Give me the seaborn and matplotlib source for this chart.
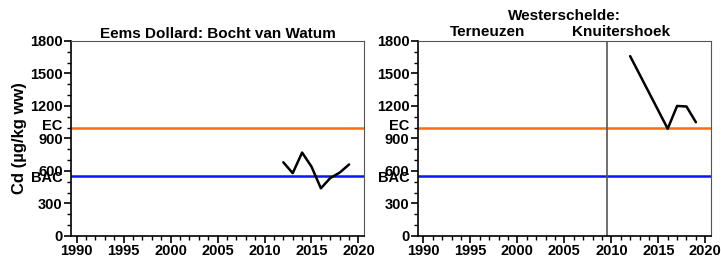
import pandas as pd
import matplotlib
matplotlib.use('Agg')
import matplotlib.pyplot as plt
import seaborn as sns
from matplotlib.ticker import MultipleLocator
import matplotlib.transforms as mtransforms

# data
years_eems = [2012, 2013, 2014, 2015, 2016, 2017, 2018, 2019]
cd_eems = [680, 580, 770, 640, 440, 535, 585, 660]
years_ws = [2012, 2016, 2017, 2018, 2019]
cd_ws = [1660, 990, 1200, 1195, 1050]
EC = 1000
BAC = 550
switch_year = 2009.5   # Terneuzen -> Knuitershoek

titles = ['Eems Dollard: Bocht van Watum', 'Westerschelde:']
sub_locs = ['Terneuzen', 'Knuitershoek']
sub_x = [1996.8, 2011.0]

sns.set_style('ticks')
plt.rcParams['font.family'] = ['Liberation Sans', 'DejaVu Sans']
plt.rcParams['font.weight'] = 'bold'
for k in ['text.color', 'axes.labelcolor', 'xtick.color', 'ytick.color', 'axes.edgecolor']:
    plt.rcParams[k] = 'black'

fig = plt.figure(figsize=(7.21, 2.58), dpi=100)
ax1 = fig.add_axes([0.0985, 0.0853, 0.4065, 0.756])
ax2 = fig.add_axes([0.5795, 0.0853, 0.4065, 0.756])

df1 = pd.DataFrame({'jaar': years_eems, 'Cd': cd_eems})
df2 = pd.DataFrame({'jaar': years_ws, 'Cd': cd_ws})

fs = 10.5
for ax, df in [(ax1, df1), (ax2, df2)]:
    ax.axhline(EC, color='#ff6a13', lw=1.8, zorder=1)
    ax.axhline(BAC, color='#0a14ff', lw=1.8, zorder=1)
    sns.lineplot(data=df, x='jaar', y='Cd', ax=ax, color='black', lw=1.8, zorder=3)
    ax.set_xlim(1989.4, 2020.6)
    ax.set_ylim(0, 1800)
    ax.set_xticks([1990, 1995, 2000, 2005, 2010, 2015, 2020])
    ax.set_yticks([0, 300, 600, 900, 1200, 1500, 1800])
    ax.xaxis.set_minor_locator(MultipleLocator(1))
    ax.yaxis.set_minor_locator(MultipleLocator(100))
    ax.tick_params(axis='both', which='major', length=5, width=1.2, labelsize=fs, pad=1)
    ax.tick_params(axis='both', which='minor', length=3, width=1)
    for lab in ax.get_xticklabels() + ax.get_yticklabels():
        lab.set_fontweight('bold')
    ax.set_xlabel('')
    ax.set_ylabel('')
    ax.spines['left'].set_linewidth(1.2)
    ax.spines['bottom'].set_linewidth(1.2)
    ax.spines['top'].set_visible(True)
    ax.spines['right'].set_visible(True)
    ax.spines['top'].set_color('#555555')
    ax.spines['right'].set_color('#555555')
    trans = mtransforms.blended_transform_factory(ax.transAxes, ax.transData)
    ax.text(-0.028, EC + 15, 'EC', transform=trans, ha='right', va='center',
            fontsize=fs, fontweight='bold')
    ax.text(-0.028, BAC - 15, 'BAC', transform=trans, ha='right', va='center',
            fontsize=fs, fontweight='bold')

ax2.axvline(switch_year, color='#555555', lw=1.2, zorder=2)

ax1.set_title(titles[0], fontsize=11, fontweight='bold', pad=2)
ax2.set_title(titles[1], fontsize=11, fontweight='bold', pad=15)
trans2 = mtransforms.blended_transform_factory(ax2.transData, ax2.transAxes)
for name, xpos in zip(sub_locs, sub_x):
    ax2.text(xpos, 1.012, name, transform=trans2, ha='center', va='bottom',
             fontsize=11, fontweight='bold')
ax1.set_ylabel('Cd (µg/kg ww)', fontsize=12, fontweight='bold', labelpad=2)

fig.savefig('out.png', dpi=100)
